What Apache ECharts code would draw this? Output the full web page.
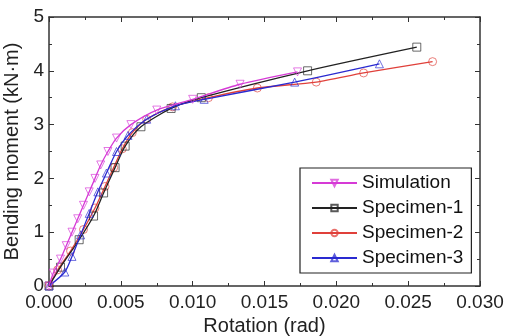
<!DOCTYPE html>
<html>
<head>
    <meta charset="utf-8"/>
    <title>Bending moment vs rotation</title>
    <script src="https://cdn.jsdelivr.net/npm/echarts@6/dist/echarts.min.js"></script>
    <style>
        html, body { margin: 0; padding: 0; background: #fff; }
        #main { width: 506px; height: 336px; }
    </style>
</head>
<body>
<div id="main"></div>
<script>
    // 数据 (rotation in rad, moment in kN·m)
    var simX = [0, 0.0003, 0.0008, 0.0012, 0.0016, 0.0020, 0.0024, 0.0028, 0.0032, 0.0036, 0.0041, 0.0047, 0.0057, 0.0075, 0.0100, 0.0133, 0.0173];
    var simY = [0, 0.24, 0.50, 0.75, 1.00, 1.25, 1.50, 1.75, 2.00, 2.25, 2.50, 2.75, 3.00, 3.27, 3.47, 3.75, 3.98];

    var sp1X = [0, 0.0008, 0.0021, 0.0031, 0.0038, 0.0046, 0.0053, 0.0064, 0.0085, 0.0106, 0.0180, 0.0256];
    var sp1Y = [0, 0.35, 0.86, 1.30, 1.73, 2.20, 2.60, 2.96, 3.30, 3.50, 4.00, 4.44];

    var sp2X = [0, 0.0006, 0.0015, 0.0024, 0.0032, 0.0039, 0.0045, 0.0051, 0.0058, 0.0068, 0.0086, 0.0111, 0.0145, 0.0186, 0.0219, 0.0267];
    var sp2Y = [0, 0.30, 0.65, 1.05, 1.45, 1.85, 2.20, 2.55, 2.85, 3.10, 3.33, 3.50, 3.68, 3.79, 3.96, 4.17];

    var sp3X = [0, 0.0011, 0.0016, 0.0022, 0.0028, 0.0034, 0.0040, 0.0047, 0.0055, 0.0068, 0.0088, 0.0108, 0.0171, 0.0230];
    var sp3Y = [0, 0.26, 0.55, 0.95, 1.35, 1.75, 2.10, 2.50, 2.80, 3.10, 3.35, 3.47, 3.79, 4.13];

    var xTicks = ['0.000', '0.005', '0.010', '0.015', '0.020', '0.025', '0.030'];

    function pairs(xs, ys) {
        var out = [];
        for (var i = 0; i < xs.length; i++) out.push([xs[i], ys[i]]);
        return out;
    }

    var font = 'Liberation Sans, Arial, sans-serif';
    var axisColor = '#333';

    function mkSeries(name, xs, ys, color, symbol, rotate, z) {
        return {
            name: name,
            type: 'line',
            data: pairs(xs, ys),
            smooth: 0.25,
            symbol: symbol,
            symbolSize: 8,
            symbolRotate: rotate,
            lineStyle: { width: 1.3, color: color },
            itemStyle: { color: 'rgba(255,255,255,0)', borderColor: color, borderWidth: 0.9, opacity: 0.75 },
            z: z,
            animation: false
        };
    }

    var chart = echarts.init(document.getElementById('main'), null, { renderer: 'canvas' });
    var option = {
        backgroundColor: '#fff',
        textStyle: { fontFamily: font },
        grid: { left: 49, right: 26, top: 17, bottom: 50, containLabel: false, outerBoundsMode: 'none' },
        legend: {
            orient: 'vertical',
            left: 300,
            top: 168,
            padding: [4, 8, 4, 11],
            itemWidth: 45,
            itemHeight: 8,
            itemGap: 3,
            borderColor: '#222',
            borderWidth: 1.2,
            textStyle: { fontSize: 19, lineHeight: 22, color: '#111', fontFamily: font },
            data: ['Simulation', 'Specimen-1', 'Specimen-2', 'Specimen-3']
        },
        xAxis: [{
            type: 'value',
            min: 0, max: 0.03, interval: 0.005,
            name: 'Rotation (rad)',
            nameLocation: 'middle',
            nameGap: 29,
            nameTextStyle: { fontSize: 20, color: '#222' },
            axisLine: { show: true, onZero: false, lineStyle: { color: axisColor, width: 1.5 } },
            axisTick: { inside: true, length: 5, lineStyle: { color: axisColor } },
            minorTick: { show: true, splitNumber: 2, length: 3, lineStyle: { color: axisColor } },
            splitLine: { show: false },
            axisLabel: {
                fontSize: 19, color: '#222', margin: 7,
                formatter: function (v) { return xTicks[Math.round(v / 0.005)]; }
            }
        }, {
            type: 'value', position: 'top',
            min: 0, max: 0.03, interval: 0.005,
            axisLine: { show: true, onZero: false, lineStyle: { color: axisColor, width: 1.5 } },
            axisTick: { inside: true, length: 5, lineStyle: { color: axisColor } },
            minorTick: { show: true, splitNumber: 2, length: 3, lineStyle: { color: axisColor } },
            splitLine: { show: false },
            axisLabel: { show: false }
        }],
        yAxis: [{
            type: 'value',
            min: 0, max: 5, interval: 1,
            name: 'Bending moment (kN·m)',
            nameLocation: 'middle',
            nameGap: 22,
            nameTextStyle: { fontSize: 20, color: '#222' },
            axisLine: { show: true, onZero: false, lineStyle: { color: axisColor, width: 1.5 } },
            axisTick: { inside: true, length: 5, lineStyle: { color: axisColor } },
            minorTick: { show: true, splitNumber: 2, length: 3, lineStyle: { color: axisColor } },
            splitLine: { show: false },
            axisLabel: { fontSize: 19, color: '#222', margin: 5 }
        }, {
            type: 'value', position: 'right',
            min: 0, max: 5, interval: 1,
            axisLine: { show: true, onZero: false, lineStyle: { color: axisColor, width: 1.5 } },
            axisTick: { inside: true, length: 5, lineStyle: { color: axisColor } },
            minorTick: { show: true, splitNumber: 2, length: 3, lineStyle: { color: axisColor } },
            splitLine: { show: false },
            axisLabel: { show: false }
        }],
        series: [
            mkSeries('Simulation', simX, simY, '#d63ad6', 'triangle', 180, 5),
            mkSeries('Specimen-1', sp1X, sp1Y, '#222222', 'rect', 0, 3),
            mkSeries('Specimen-2', sp2X, sp2Y, '#e0403a', 'circle', 0, 2),
            mkSeries('Specimen-3', sp3X, sp3Y, '#2a2ad0', 'triangle', 0, 4)
        ]
    };
    chart.setOption(option);
</script>
</body>
</html>
